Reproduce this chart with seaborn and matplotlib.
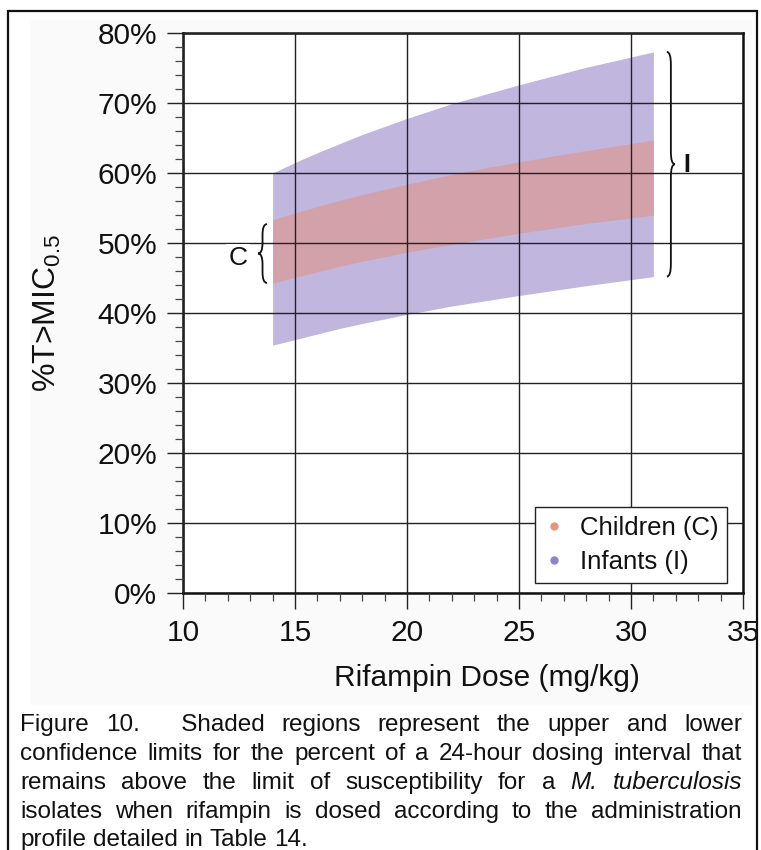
import matplotlib
matplotlib.use("Agg")
import matplotlib.pyplot as plt
from matplotlib.patches import Rectangle, PathPatch
from matplotlib.path import Path
from matplotlib.lines import Line2D
from matplotlib.ticker import MultipleLocator, FuncFormatter
import seaborn as sns
import numpy as np

# Rifampin dose (mg/kg) and confidence limits of %T>MIC0.5
dose = [14, 15, 16, 17, 18, 20, 22, 25, 28, 31]
infant_upper = [60.0, 61.5, 62.9, 64.2, 65.5, 67.8, 69.9, 72.6, 75.1, 77.3]
infant_lower = [35.4, 36.2, 37.0, 37.8, 38.5, 39.8, 41.0, 42.5, 43.9, 45.2]
child_upper = [53.3, 54.3, 55.2, 56.1, 56.9, 58.4, 59.8, 61.6, 63.2, 64.7]
child_lower = [44.3, 45.1, 45.9, 46.7, 47.4, 48.7, 49.8, 51.4, 52.8, 54.0]

series_labels = ["Children (C)", "Infants (I)"]
x_ticks = [10, 15, 20, 25, 30, 35]
y_ticks = [0, 10, 20, 30, 40, 50, 60, 70, 80]

caption_lines = [
    [("Figure", False), ("10.", False), ("\u2003Shaded", False), ("regions", False),
     ("represent", False), ("the", False), ("upper", False), ("and", False), ("lower", False)],
    [(w, False) for w in "confidence limits for the percent of a 24-hour dosing interval that".split()],
    [(w, False) for w in "remains above the limit of susceptibility for a".split()]
    + [("M.", True), ("tuberculosis", True)],
    [(w, False) for w in "isolates when rifampin is dosed according to the administration".split()],
    [(w, False) for w in "profile detailed in Table 14.".split()],
]

FONT = "Liberation Sans"
INFANT_FILL = "#c0b6de"
CHILD_FILL = "#d3a1aa"
CHILD_DOT = "#e8937c"
INFANT_DOT = "#8c85c8"

sns.set_theme(style="white")
plt.rcParams["font.family"] = [FONT, "DejaVu Sans"]
plt.rcParams["mathtext.fontset"] = "custom"
plt.rcParams["mathtext.rm"] = FONT
plt.rcParams["mathtext.it"] = FONT + ":italic"

W, H = 761, 850
fig = plt.figure(figsize=(W / 100, H / 100), dpi=100)
fig.patch.set_facecolor("white")

# faint panel behind the chart
fig.patches.append(Rectangle((30 / W, 1 - 705 / H), 722 / W, 685 / H,
                             transform=fig.transFigure, facecolor="#fafafa",
                             edgecolor="none", zorder=-5))

ax = fig.add_axes([183 / W, 1 - 593 / H, 560 / W, 560 / H])
ax.set_zorder(1)
ax.set_facecolor("white")

ax.fill_between(dose, infant_lower, infant_upper, color=INFANT_FILL, lw=0, zorder=1)
ax.fill_between(dose, child_lower, child_upper, color=CHILD_FILL, lw=0, zorder=1.1)

ax.set_xlim(10, 35)
ax.set_ylim(0, 80)
ax.set_xticks(x_ticks)
ax.set_yticks(y_ticks)
ax.xaxis.set_minor_locator(MultipleLocator(1))
ax.yaxis.set_minor_locator(MultipleLocator(2))
ax.yaxis.set_major_formatter(FuncFormatter(lambda v, p: f"{int(v)}%"))
ax.set_axisbelow(False)
ax.grid(True, which="major", color="#222222", lw=1.0)
ax.tick_params(axis="both", which="both", bottom=True, left=True, top=False, right=False)
ax.tick_params(axis="both", which="major", direction="out", length=11.5, width=1.0,
               color="#222222", labelsize=21.5, labelcolor="#111111")
ax.tick_params(axis="y", which="major", pad=7)
ax.tick_params(axis="x", which="major", pad=7)
ax.tick_params(axis="both", which="minor", direction="out", length=5.8, width=0.9,
               color="#444444")
for s in ax.spines.values():
    s.set_color("#111111")
    s.set_linewidth(1.8)

ax.set_xlabel("Rifampin Dose (mg/kg)", fontsize=21.5, color="#111111")
ax.set_ylabel(r"%T>MIC$_{0.5}$", fontsize=23, color="#111111")
ax.xaxis.set_label_coords(0.543, -0.127)
ax.yaxis.set_label_coords(-0.214, 0.5)


def brace(ax, x_end, width, y_bot, y_top, ry, lw=1.3):
    """Curly brace whose ends sit at x_end and whose tip points by width."""
    xm = x_end + width / 2
    xt = x_end + width
    ym = (y_bot + y_top) / 2
    verts = [
        (x_end, y_top), (xm, y_top), (xm, y_top - ry),
        (xm, ym + ry),
        (xm, ym), (xt, ym),
        (xm, ym), (xm, ym - ry),
        (xm, y_bot + ry),
        (xm, y_bot), (x_end, y_bot),
    ]
    codes = [Path.MOVETO, Path.CURVE3, Path.CURVE3, Path.LINETO,
             Path.CURVE3, Path.CURVE3, Path.CURVE3, Path.CURVE3,
             Path.LINETO, Path.CURVE3, Path.CURVE3]
    ax.add_patch(PathPatch(Path(verts, codes), fill=False, lw=lw,
                           edgecolor="#111111", zorder=4, clip_on=False))


# children brace on the left of the band start, infants brace on the right
brace(ax, dose[0] - 0.25, -0.4, child_lower[0], child_upper[0] - 0.6, 1.5)
brace(ax, dose[-1] + 0.6, 0.36, infant_lower[-1], infant_upper[-1], 1.8)

ax.text(12.46, (child_lower[0] + child_upper[0]) / 2 - 1.0, "C", fontsize=19,
        ha="center", va="center", color="#111111", zorder=4,
        bbox=dict(facecolor="white", edgecolor="none", pad=1.5))
ax.text(32.5, 60.15, "I", fontsize=18, fontweight="bold", ha="center",
        va="baseline", color="#111111", zorder=4)

handles = [
    Line2D([], [], ls="none", marker="o", ms=6, mfc=CHILD_DOT, mec="none"),
    Line2D([], [], ls="none", marker="o", ms=6, mfc=INFANT_DOT, mec="none"),
]
leg = ax.legend(handles, series_labels, loc="lower right",
                bbox_to_anchor=(0.972, 0.018), fontsize=18.5, frameon=True,
                fancybox=False, framealpha=1, edgecolor="#222222",
                handlelength=0.8, handletextpad=0.6, labelspacing=0.4,
                borderpad=0.35, borderaxespad=0.0)
leg.get_frame().set_linewidth(1.0)
leg.set_zorder(6)
for t in leg.get_texts():
    t.set_color("#111111")

# caption, fully justified except for the last line
renderer = fig.canvas.get_renderer()
cap_fs = 17.5
x_left, x_right = 20.0, 742.0
baselines = [731, 760, 789, 818, 846]
for i, (words, yb) in enumerate(zip(caption_lines, baselines)):
    texts, widths = [], []
    for w, ital in words:
        t = fig.text(0, 1 - yb / H, w, fontsize=cap_fs, style="italic" if ital else "normal",
                     ha="left", va="baseline", color="#111111")
        widths.append(t.get_window_extent(renderer).width)
        texts.append(t)
    last = i == len(caption_lines) - 1
    if last:
        sp = fig.text(0, 0, "a b", fontsize=cap_fs)
        sa = fig.text(0, 0, "ab", fontsize=cap_fs)
        gap = sp.get_window_extent(renderer).width - sa.get_window_extent(renderer).width
        sp.remove(); sa.remove()
    else:
        gap = (x_right - x_left - sum(widths)) / (len(words) - 1)
    x = x_left
    for t, wd in zip(texts, widths):
        t.set_x(x / W)
        x += wd + gap

# outer frame
fig.patches.append(Rectangle((8 / W, -0.01), 749 / W, 1 - 11 / H + 0.01,
                             transform=fig.transFigure, facecolor="none",
                             edgecolor="#111111", lw=1.6, zorder=10))

fig.savefig("out.png", dpi=100, facecolor="white")
